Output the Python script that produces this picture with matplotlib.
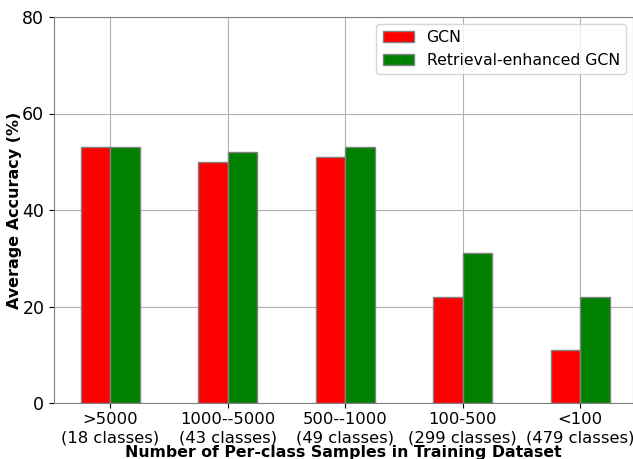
import numpy as np
import matplotlib.pyplot as plt

categories = ['>5000\n(18 classes)', '1000--5000\n(43 classes)', '500--1000\n(49 classes)',
              '100-500\n(299 classes)', '<100\n(479 classes)']
gcn = [53, 50, 51, 22, 11]
retrieval_gcn = [53, 52, 53, 31, 22]

x = np.arange(len(categories))
width = 0.25

fig = plt.figure(figsize=(6.33, 4.59), dpi=100)
ax = fig.add_axes([54 / 633, 1 - 403 / 459, 579 / 633, 386 / 459])

ax.bar(x - width / 2, gcn, width, color='red', edgecolor='grey', label='GCN', zorder=3)
ax.bar(x + width / 2, retrieval_gcn, width, color='green', edgecolor='grey',
       label='Retrieval-enhanced GCN', zorder=3)

ax.set_xlim(-0.48, 4.45)
ax.set_ylim(0, 80)
ax.set_yticks([0, 20, 40, 60, 80])
ax.set_xticks(x)
ax.set_xticklabels(categories, fontsize=11.8, linespacing=1.25)
ax.tick_params(axis='y', labelsize=12.5)
ax.tick_params(axis='x', pad=3)
ax.set_ylabel('Average Accuracy (%)', fontsize=11.5, fontweight='bold')
ax.yaxis.set_label_coords(-0.056, 0.5)
ax.set_xlabel('Number of Per-class Samples in Training Dataset', fontsize=11.3,
              fontweight='bold', labelpad=0)
ax.grid(True, color='#b0b0b0', linewidth=0.8, zorder=0)
for s in ax.spines.values():
    s.set_color('grey')
ax.legend(loc='upper right', fontsize=11.3, borderaxespad=0.45)

fig.savefig('out.png', dpi=100)
